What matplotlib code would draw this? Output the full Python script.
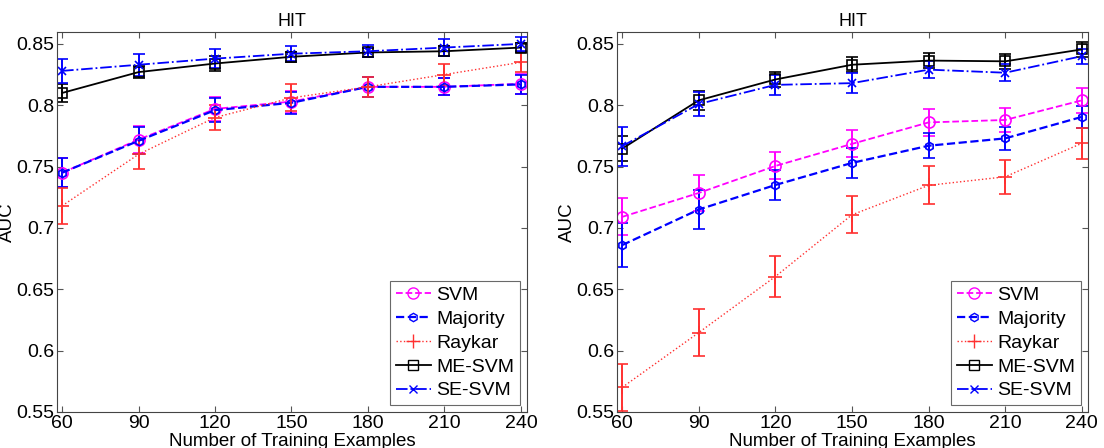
import matplotlib
matplotlib.use("Agg")
import matplotlib.pyplot as plt
from matplotlib.lines import Line2D

plt.rcParams['font.family'] = ['Liberation Sans', 'DejaVu Sans']

x_vals = [60, 90, 120, 150, 180, 210, 240]
x_ticks = [60, 90, 120, 150, 180, 210, 240]
y_ticks = [0.55, 0.6, 0.65, 0.7, 0.75, 0.8, 0.85]
y_tick_labels = ['0.55', '0.6', '0.65', '0.7', '0.75', '0.8', '0.85']
titles = ['HIT', 'HIT']
series_names = ['SVM', 'Majority', 'Raykar', 'ME-SVM', 'SE-SVM']

# Left panel
left_svm = [0.745, 0.772, 0.797, 0.803, 0.815, 0.815, 0.8175]
left_svm_err = [0.012, 0.011, 0.010, 0.009, 0.008, 0.007, 0.008]
left_majority = [0.745, 0.771, 0.796, 0.802, 0.815, 0.815, 0.817]
left_majority_err = [0.012, 0.011, 0.010, 0.009, 0.008, 0.007, 0.008]
left_raykar = [0.718, 0.760, 0.790, 0.806, 0.815, 0.825, 0.835]
left_raykar_err = [0.0145, 0.012, 0.010, 0.011, 0.008, 0.009, 0.008]
left_mesvm = [0.810, 0.827, 0.834, 0.8395, 0.843, 0.844, 0.847]
left_mesvm_err = [0.007, 0.005, 0.006, 0.004, 0.004, 0.004, 0.004]
left_sesvm = [0.828, 0.833, 0.838, 0.842, 0.844, 0.847, 0.850]
left_sesvm_err = [0.010, 0.009, 0.008, 0.006, 0.005, 0.007, 0.006]

# Right panel
right_svm = [0.709, 0.7285, 0.7505, 0.7685, 0.786, 0.788, 0.804]
right_svm_err = [0.015, 0.015, 0.011, 0.011, 0.011, 0.010, 0.010]
right_majority = [0.686, 0.715, 0.735, 0.753, 0.767, 0.773, 0.7905]
right_majority_err = [0.018, 0.016, 0.012, 0.012, 0.010, 0.0095, 0.009]
right_raykar = [0.570, 0.6147, 0.6604, 0.7107, 0.7347, 0.7417, 0.769]
right_raykar_err = [0.019, 0.019, 0.0167, 0.015, 0.0155, 0.0137, 0.0125]
right_mesvm = [0.7646, 0.804, 0.821, 0.833, 0.8364, 0.8358, 0.8455]
right_mesvm_err = [0.010, 0.008, 0.006, 0.006, 0.006, 0.006, 0.006]
right_sesvm = [0.7666, 0.801, 0.8166, 0.818, 0.829, 0.8265, 0.840]
right_sesvm_err = [0.016, 0.010, 0.008, 0.008, 0.007, 0.007, 0.006]

styles = [
    dict(color='#ff00ff', linestyle='--', marker='o', ms=8),
    dict(color='#0000ff', linestyle='--', marker='h', ms=6),
    dict(color='#ff3030', linestyle=':', marker='+', ms=10),
    dict(color='#000000', linestyle='-', marker='s', ms=7),
    dict(color='#0000ff', linestyle='-.', marker='x', ms=6),
]
lw = [1.3, 1.6, 1.0, 1.3, 1.3]

fig = plt.figure(figsize=(11.04, 4.48), dpi=100)
axes = [fig.add_axes([0.0516, 0.0804, 0.4258, 0.8482]),
        fig.add_axes([0.5589, 0.0804, 0.4266, 0.8482])]

panels = [
    [(left_svm, left_svm_err), (left_majority, left_majority_err),
     (left_raykar, left_raykar_err), (left_mesvm, left_mesvm_err),
     (left_sesvm, left_sesvm_err)],
    [(right_svm, right_svm_err), (right_majority, right_majority_err),
     (right_raykar, right_raykar_err), (right_mesvm, right_mesvm_err),
     (right_sesvm, right_sesvm_err)],
]

for ax, panel, title in zip(axes, panels, titles):
    handles = []
    for (vals, errs), st, name, w in zip(panel, styles, series_names, lw):
        c = st['color']
        ax.errorbar(x_vals, vals, yerr=errs, color=c, linestyle=st['linestyle'],
                    marker=st['marker'], ms=st['ms'], mfc='none', mec=c,
                    mew=1.2, lw=w, elinewidth=1.4, capsize=4, capthick=1.4)
        handles.append(Line2D([], [], color=c, linestyle=st['linestyle'],
                              marker=st['marker'], ms=st['ms'], mfc='none',
                              mec=c, mew=1.0, lw=w, label=name))
    ax.set_xlim(58, 242.4)
    ax.set_ylim(0.55, 0.8597)
    ax.set_xticks(x_ticks)
    ax.set_xticklabels([str(t) for t in x_ticks])
    ax.set_yticks(y_ticks)
    ax.set_yticklabels(y_tick_labels)
    ax.tick_params(direction='in', top=True, right=True, labelsize=14, length=4,
                   color='#555555', pad=2)
    for sp in ax.spines.values():
        sp.set_color('#444444')
        sp.set_linewidth(0.8)
    ax.set_title(title, fontsize=13, pad=4)
    ax.set_xlabel('Number of Training Examples', fontsize=13.5, labelpad=1)
    ax.set_ylabel('AUC', fontsize=13.5, labelpad=0)
    leg = ax.legend(handles=handles, loc='lower right', fontsize=14, frameon=True,
                    fancybox=False, edgecolor='#444444', handlelength=1.8,
                    handletextpad=0.3, borderpad=0.3, labelspacing=0.32,
                    borderaxespad=0.35)
    leg.get_frame().set_linewidth(0.8)

fig.savefig('out.png', dpi=100)
